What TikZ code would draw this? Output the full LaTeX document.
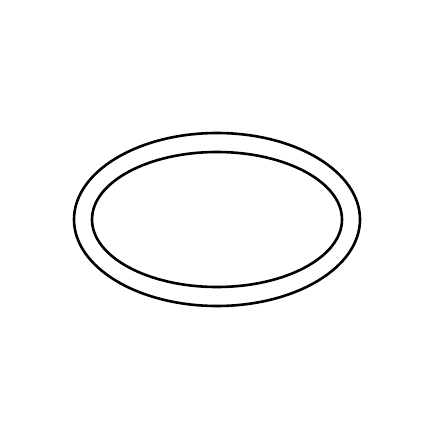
\documentclass[tikz,border=0pt]{standalone}
\begin{document}
\begin{tikzpicture}[x=1pt,y=1pt,ring/.style={draw=black,line width=2.6pt}]
\useasboundingbox (0,0) rectangle (440,440);
\coordinate (c) at (217,220.5);
\draw[ring] (c) ellipse [x radius=143, y radius=86.5];
\draw[ring] (c) ellipse [x radius=125, y radius=67.5];
\end{tikzpicture}
\end{document}
